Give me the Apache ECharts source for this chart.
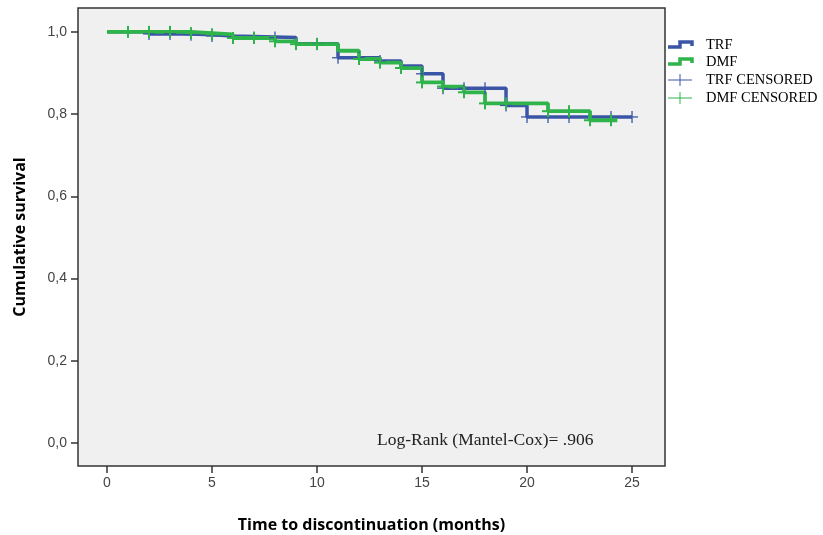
<!DOCTYPE html>
<html><head><meta charset="utf-8">
<script src="https://cdn.jsdelivr.net/npm/echarts@6/dist/echarts.min.js"></script>
<style>html,body{margin:0;padding:0;background:#fff}#c{width:823px;height:535px}</style>
</head><body><div id="c"></div>
<script>
// Kaplan-Meier step points: [time (months), cumulative survival]
const trfTimes = [0, 2, 4, 5, 6, 9, 11, 13, 14, 15, 16, 19, 20, 25];
const trfSurv  = [1.0, 0.995, 0.993, 0.990, 0.986, 0.971, 0.937, 0.929, 0.917, 0.898, 0.863, 0.821, 0.793, 0.793];
const dmfTimes = [0, 4, 5, 6, 8, 9, 11, 12, 13, 14, 15, 16, 17, 18, 21, 23, 24.3];
const dmfSurv  = [1.0, 0.997, 0.994, 0.985, 0.977, 0.970, 0.954, 0.934, 0.925, 0.912, 0.877, 0.867, 0.853, 0.826, 0.807, 0.785, 0.785];
// Censored observation times
const trfCensored = [2, 3, 4, 5, 7, 8, 10, 11, 12, 13, 15, 16, 17, 18, 19, 20, 21, 22, 24, 25];
const dmfCensored = [1, 2, 3, 4, 5, 6, 7, 8, 9, 10, 12, 13, 14, 15, 16, 17, 18, 19, 21, 22, 23, 24];
const xTicks = [0, 5, 10, 15, 20, 25];
const yTicks = [0, 0.2, 0.4, 0.6, 0.8, 1.0];
const seriesNames = ['TRF', 'DMF', 'TRF CENSORED', 'DMF CENSORED'];
const annotation = 'Log-Rank (Mantel-Cox)= .906';
const xTitle = 'Time to discontinuation (months)';
const yTitle = 'Cumulative survival';

const BLUE = '#3b55a6', GREEN = '#2fb34b';
function survAt(times, surv, t){ let v = surv[0]; for (let i=0;i<times.length;i++){ if (times[i] <= t + 1e-9) v = surv[i]; } return v; }
const trfLine = trfTimes.map((t,i)=>[t, trfSurv[i]]);
const dmfLine = dmfTimes.map((t,i)=>[t, dmfSurv[i]]);
const trfCens = trfCensored.map(t=>[t, survAt(trfTimes, trfSurv, t)]);
const dmfCens = dmfCensored.map(t=>[t, survAt(dmfTimes, dmfSurv, t)]);

function plusRenderer(color, w, hh, hw){
  return function(params, api){
    const p = api.coord([api.value(0), api.value(1)]);
    return {type:'group', children:[
      {type:'line', shape:{x1:p[0], y1:p[1]-hh, x2:p[0], y2:p[1]+hh}, style:{stroke:color, lineWidth:w}},
      {type:'line', shape:{x1:p[0]-hw, y1:p[1], x2:p[0]+hw, y2:p[1]}, style:{stroke:color, lineWidth:w}}
    ]};
  };
}

const chart = echarts.init(document.getElementById('c'), null, {renderer:'canvas'});
const serif = '"Liberation Serif","Times New Roman",serif';
const sans = '"Liberation Sans",Arial,sans-serif';
const legendY = [45, 62, 80, 98];
const legendGraphics = [
  {type:'polyline', shape:{points:[[668,47],[680,47],[680,42],[692,42],[692,46]]}, style:{stroke:BLUE, lineWidth:3.5, fill:null}},
  {type:'polyline', shape:{points:[[668,64],[680,64],[680,59],[692,59],[692,63]]}, style:{stroke:GREEN, lineWidth:3.5, fill:null}},
  {type:'line', shape:{x1:668,y1:80,x2:692,y2:80}, style:{stroke:BLUE, lineWidth:1}},
  {type:'line', shape:{x1:680,y1:74,x2:680,y2:86}, style:{stroke:BLUE, lineWidth:1}},
  {type:'line', shape:{x1:668,y1:98,x2:692,y2:98}, style:{stroke:GREEN, lineWidth:1}},
  {type:'line', shape:{x1:680,y1:92,x2:680,y2:104}, style:{stroke:GREEN, lineWidth:1}}
];
seriesNames.forEach((n,i)=>legendGraphics.push({type:'text', left:706, top:legendY[i]-7, style:{text:n, font:'14.5px '+serif, fill:'#000'}}));

chart.setOption({
  animation:false,
  backgroundColor:'#ffffff',
  grid:{left:78, top:8, right:158, bottom:69, outerBoundsMode:'none', containLabel:false,
    show:true, backgroundColor:'#f0f0f0', borderColor:'#333', borderWidth:1.5},
  xAxis:{type:'value', min:-1.38, max:26.57,
    axisLine:{show:false, onZero:false}, splitLine:{show:false},
    axisTick:{show:true, customValues:xTicks, length:7, lineStyle:{color:'#333', width:1.5}},
    axisLabel:{customValues:xTicks, color:'#444', fontFamily:sans, fontSize:14, margin:10},
    name:xTitle, nameLocation:'middle', nameGap:51,
    nameTextStyle:{fontFamily:'"Open Sans",Lato,sans-serif', fontWeight:'bold', fontSize:16, color:'#000'}
  },
  yAxis:{type:'value', min:-0.056, max:1.058,
    axisLine:{show:false, onZero:false}, splitLine:{show:false},
    axisTick:{show:true, customValues:yTicks, length:7, lineStyle:{color:'#333', width:1.5}},
    axisLabel:{customValues:yTicks, color:'#444', fontFamily:sans, fontSize:14, margin:11,
      formatter:v=>v.toFixed(1).replace('.',',')},
    name:yTitle, nameLocation:'middle', nameGap:50, nameRotate:90,
    nameTextStyle:{fontFamily:'"Open Sans",Lato,sans-serif', fontWeight:'bold', fontSize:16, color:'#000'}
  },
  graphic:legendGraphics.concat([
    {type:'text', left:377, top:431, style:{text:annotation, font:'17.5px '+serif, fill:'#222'}}
  ]),
  series:[
    {name:seriesNames[0], type:'line', step:'end', data:trfLine, showSymbol:false, lineStyle:{color:BLUE, width:3.5}, z:2},
    {name:seriesNames[1], type:'line', step:'end', data:dmfLine, showSymbol:false, lineStyle:{color:GREEN, width:3.8}, z:3},
    {name:seriesNames[2], type:'custom', data:trfCens, renderItem:plusRenderer(BLUE, 1.3, 6, 6), z:4},
    {name:seriesNames[3], type:'custom', data:dmfCens, renderItem:plusRenderer(GREEN, 2, 6, 6), z:5}
  ]
});
</script></body></html>
